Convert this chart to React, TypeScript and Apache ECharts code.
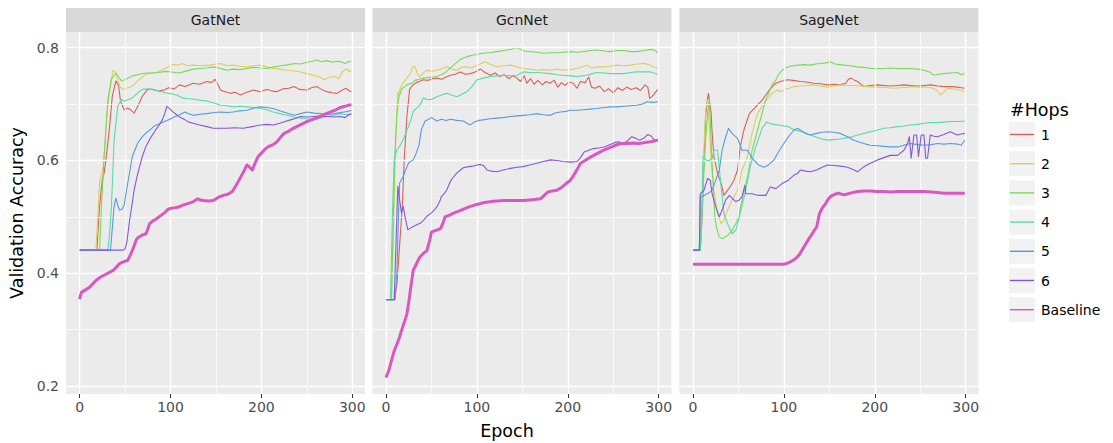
import React, { useEffect, useRef } from "react";
import * as echarts from "echarts";

type Pt = [number, number];

// ---------- data (epoch, validation accuracy) ----------
const panelNames = ["GatNet", "GcnNet", "SageNet"];
const hopNames = ["1", "2", "3", "4", "5", "6", "Baseline"];
const hopColors = ["#db5f57", "#dbd057", "#75db57", "#57dbaa", "#579bdb", "#8557db", "#db57c0"];
const xTicks = [0, 100, 200, 300];
const xMinor = [50, 150, 250];
const yTicks = [0.2, 0.4, 0.6, 0.8];
const yMinor = [0.3, 0.5, 0.7];

const gat1: Pt[] = [[0,0.441],[19,0.441],[22,0.52],[25,0.566],[27,0.578],[29,0.601],[33,0.66],[36,0.714],[40,0.741],[43,0.732],[45,0.705],[49,0.69],[53,0.693],[56,0.69],[60,0.684],[64,0.696],[69,0.714],[75,0.726],[80,0.726],[87,0.723],[93,0.725],[98,0.729],[104,0.727],[110,0.734],[116,0.731],[125,0.737],[132,0.735],[140,0.74],[145,0.738],[149,0.744],[152,0.735],[155,0.725],[160,0.722],[166,0.719],[171,0.721],[177,0.716],[184,0.721],[191,0.725],[198,0.722],[206,0.726],[212,0.723],[217,0.722],[224,0.727],[230,0.728],[236,0.731],[242,0.726],[250,0.725],[255,0.729],[261,0.731],[266,0.726],[272,0.722],[278,0.72],[283,0.719],[288,0.724],[293,0.728],[296,0.724],[299,0.722]];
const gat2: Pt[] = [[0,0.441],[18,0.441],[20,0.5],[22,0.56],[26,0.59],[31,0.696],[35,0.744],[37,0.76],[40,0.755],[44,0.732],[47,0.726],[53,0.729],[58,0.732],[64,0.741],[73,0.753],[80,0.755],[86,0.757],[91,0.761],[96,0.765],[102,0.77],[108,0.769],[113,0.772],[118,0.768],[125,0.769],[134,0.768],[143,0.769],[150,0.771],[155,0.772],[162,0.768],[169,0.769],[176,0.767],[184,0.766],[192,0.768],[199,0.769],[206,0.766],[213,0.763],[220,0.762],[228,0.76],[235,0.759],[243,0.757],[250,0.754],[258,0.751],[264,0.748],[269,0.743],[274,0.747],[280,0.749],[285,0.745],[289,0.757],[294,0.763],[297,0.757],[299,0.76]];
const gat3: Pt[] = [[0,0.441],[22,0.441],[24,0.518],[27,0.607],[31,0.708],[35,0.744],[40,0.755],[46,0.741],[51,0.744],[58,0.75],[66,0.753],[73,0.755],[80,0.755],[87,0.756],[94,0.758],[101,0.757],[109,0.755],[116,0.758],[125,0.762],[132,0.763],[140,0.764],[147,0.766],[153,0.764],[158,0.762],[162,0.76],[168,0.762],[176,0.761],[184,0.763],[192,0.765],[199,0.764],[206,0.763],[214,0.766],[222,0.768],[230,0.77],[236,0.772],[243,0.771],[250,0.774],[256,0.776],[261,0.778],[266,0.775],[272,0.777],[278,0.774],[283,0.776],[287,0.775],[292,0.772],[296,0.775],[299,0.776]];
const gat4: Pt[] = [[0,0.441],[31,0.441],[33,0.47],[35,0.518],[38,0.637],[42,0.696],[46,0.708],[49,0.705],[54,0.708],[58,0.711],[64,0.72],[69,0.726],[75,0.727],[80,0.726],[87,0.723],[94,0.72],[102,0.718],[107,0.716],[113,0.711],[118,0.71],[125,0.709],[132,0.707],[138,0.706],[143,0.704],[150,0.701],[155,0.698],[162,0.697],[169,0.695],[176,0.696],[184,0.695],[191,0.694],[199,0.692],[206,0.69],[213,0.686],[220,0.683],[228,0.68],[236,0.677],[243,0.675],[250,0.674],[258,0.672],[265,0.675],[272,0.678],[280,0.68],[287,0.683],[293,0.681],[299,0.683]];
const gat5: Pt[] = [[0,0.441],[34,0.441],[36,0.48],[38,0.52],[40,0.533],[42,0.52],[44,0.512],[47,0.514],[49,0.521],[53,0.56],[58,0.607],[64,0.631],[68,0.64],[73,0.649],[78,0.655],[82,0.661],[89,0.666],[98,0.672],[104,0.677],[110,0.681],[116,0.686],[120,0.683],[125,0.68],[132,0.682],[140,0.683],[148,0.685],[155,0.686],[162,0.685],[169,0.686],[176,0.688],[184,0.689],[192,0.693],[199,0.695],[206,0.694],[213,0.692],[220,0.688],[228,0.684],[236,0.68],[243,0.683],[250,0.686],[258,0.684],[265,0.683],[272,0.681],[280,0.683],[287,0.685],[291,0.686],[295,0.687],[299,0.689]];
const gat6: Pt[] = [[0,0.441],[48,0.441],[50,0.443],[52,0.455],[55,0.494],[58,0.525],[60,0.548],[63,0.57],[66,0.589],[69,0.607],[73,0.625],[78,0.64],[84,0.655],[88,0.664],[91,0.672],[94,0.685],[96,0.696],[99,0.692],[102,0.687],[106,0.682],[111,0.676],[116,0.672],[120,0.668],[125,0.666],[132,0.663],[140,0.66],[147,0.657],[155,0.657],[162,0.657],[170,0.658],[180,0.657],[190,0.66],[199,0.663],[206,0.664],[213,0.663],[220,0.666],[226,0.669],[232,0.672],[238,0.675],[243,0.678],[250,0.677],[258,0.678],[265,0.679],[272,0.678],[280,0.677],[287,0.678],[292,0.676],[296,0.681],[299,0.682]];
const gatBase: Pt[] = [[0,0.354],[2,0.366],[6,0.37],[11,0.375],[15,0.382],[18,0.387],[22,0.392],[26,0.396],[31,0.4],[37,0.405],[41,0.412],[44,0.417],[48,0.42],[53,0.423],[56,0.433],[59,0.444],[62,0.458],[64,0.463],[68,0.467],[73,0.47],[75,0.478],[77,0.488],[81,0.493],[85,0.497],[90,0.503],[94,0.508],[97,0.513],[100,0.515],[105,0.516],[110,0.518],[114,0.521],[118,0.523],[124,0.526],[130,0.532],[133,0.53],[136,0.529],[142,0.528],[147,0.529],[152,0.534],[158,0.538],[163,0.54],[168,0.545],[173,0.558],[177,0.57],[181,0.582],[184,0.592],[187,0.588],[190,0.583],[193,0.595],[196,0.606],[200,0.613],[204,0.62],[208,0.625],[213,0.628],[217,0.633],[221,0.641],[225,0.648],[230,0.652],[235,0.657],[240,0.661],[245,0.665],[250,0.669],[255,0.672],[260,0.675],[265,0.678],[270,0.682],[276,0.686],[281,0.689],[287,0.694],[292,0.696],[296,0.698],[299,0.699]];

const gcn1: Pt[] = [[0,0.353],[9,0.353],[12,0.38],[15,0.45],[18,0.52],[20,0.6],[23,0.678],[26,0.726],[29,0.733],[33,0.738],[37,0.74],[41,0.743],[46,0.742],[51,0.745],[56,0.746],[61,0.744],[66,0.748],[71,0.751],[76,0.753],[82,0.757],[87,0.753],[93,0.754],[98,0.757],[104,0.762],[109,0.756],[115,0.751],[120,0.755],[125,0.749],[130,0.752],[135,0.745],[140,0.75],[144,0.746],[148,0.74],[152,0.75],[155,0.737],[159,0.745],[163,0.735],[167,0.742],[172,0.734],[176,0.74],[180,0.737],[185,0.742],[189,0.73],[193,0.738],[197,0.733],[201,0.739],[206,0.737],[210,0.728],[214,0.74],[219,0.738],[223,0.748],[226,0.73],[230,0.728],[235,0.732],[240,0.722],[245,0.727],[250,0.72],[255,0.729],[260,0.724],[265,0.73],[270,0.726],[275,0.729],[280,0.724],[285,0.734],[288,0.73],[290,0.71],[293,0.714],[296,0.72],[299,0.726]];
const gcn2: Pt[] = [[0,0.353],[6,0.353],[8,0.45],[10,0.6],[12,0.69],[13,0.72],[14,0.714],[15,0.725],[19,0.738],[23,0.746],[27,0.755],[30,0.767],[32,0.766],[34,0.756],[37,0.748],[41,0.755],[45,0.76],[50,0.758],[56,0.76],[61,0.762],[67,0.766],[72,0.762],[78,0.76],[83,0.765],[89,0.766],[94,0.764],[100,0.769],[105,0.772],[109,0.775],[115,0.77],[122,0.766],[129,0.768],[137,0.769],[144,0.766],[151,0.763],[158,0.762],[166,0.76],[173,0.761],[181,0.76],[188,0.762],[195,0.76],[203,0.761],[210,0.763],[216,0.766],[221,0.769],[226,0.764],[232,0.766],[239,0.766],[246,0.767],[254,0.769],[261,0.768],[269,0.769],[276,0.771],[284,0.772],[289,0.77],[294,0.766],[299,0.763]];
const gcn3: Pt[] = [[0,0.353],[6,0.353],[8,0.5],[10,0.62],[12,0.68],[14,0.71],[17,0.726],[20,0.73],[23,0.734],[28,0.737],[32,0.742],[37,0.744],[41,0.746],[46,0.747],[51,0.748],[56,0.749],[61,0.752],[66,0.757],[70,0.763],[75,0.77],[81,0.778],[86,0.782],[91,0.785],[96,0.787],[102,0.789],[107,0.79],[114,0.791],[122,0.793],[129,0.795],[137,0.797],[144,0.8],[148,0.797],[152,0.794],[158,0.793],[166,0.792],[173,0.79],[180,0.791],[188,0.791],[195,0.792],[203,0.793],[210,0.792],[217,0.793],[225,0.795],[232,0.796],[240,0.794],[247,0.793],[254,0.795],[262,0.795],[269,0.793],[276,0.793],[284,0.795],[291,0.797],[295,0.796],[299,0.791]];
const gcn4: Pt[] = [[0,0.353],[5,0.353],[7,0.5],[9,0.6],[12,0.619],[15,0.625],[19,0.637],[22,0.65],[25,0.661],[28,0.675],[30,0.687],[33,0.692],[36,0.696],[39,0.703],[41,0.711],[45,0.708],[50,0.708],[56,0.713],[61,0.716],[67,0.719],[72,0.716],[78,0.713],[84,0.718],[89,0.722],[94,0.73],[100,0.743],[107,0.746],[115,0.749],[122,0.75],[129,0.751],[137,0.75],[144,0.751],[151,0.757],[158,0.756],[166,0.756],[173,0.755],[181,0.754],[188,0.752],[195,0.751],[203,0.75],[210,0.749],[216,0.75],[221,0.751],[227,0.754],[232,0.756],[240,0.755],[247,0.754],[254,0.754],[262,0.754],[269,0.756],[276,0.757],[284,0.757],[291,0.757],[295,0.755],[299,0.753]];
const gcn5: Pt[] = [[0,0.353],[10,0.353],[12,0.4],[14,0.518],[15,0.56],[19,0.572],[22,0.585],[25,0.596],[30,0.601],[33,0.612],[36,0.625],[39,0.655],[43,0.67],[47,0.673],[50,0.676],[56,0.67],[61,0.673],[66,0.671],[71,0.673],[78,0.671],[85,0.67],[90,0.665],[93,0.663],[97,0.668],[102,0.671],[107,0.672],[114,0.674],[122,0.675],[129,0.676],[137,0.678],[144,0.679],[151,0.68],[158,0.681],[166,0.683],[173,0.681],[181,0.68],[186,0.684],[192,0.686],[198,0.687],[203,0.689],[210,0.689],[217,0.69],[225,0.691],[232,0.692],[240,0.694],[247,0.695],[254,0.695],[262,0.696],[269,0.697],[276,0.698],[282,0.7],[287,0.704],[293,0.703],[299,0.704]];
const gcn6: Pt[] = [[0,0.353],[9,0.353],[11,0.45],[13,0.554],[15,0.53],[17,0.507],[19,0.518],[21,0.5],[24,0.477],[27,0.48],[30,0.483],[34,0.486],[38,0.489],[42,0.495],[45,0.501],[50,0.507],[53,0.512],[56,0.518],[59,0.527],[61,0.536],[64,0.541],[67,0.548],[70,0.56],[72,0.566],[75,0.572],[78,0.578],[82,0.583],[85,0.587],[91,0.589],[96,0.59],[100,0.592],[104,0.593],[108,0.59],[111,0.583],[116,0.581],[122,0.58],[129,0.583],[137,0.586],[144,0.588],[151,0.589],[158,0.592],[166,0.595],[173,0.598],[181,0.601],[188,0.6],[195,0.598],[203,0.597],[210,0.598],[214,0.605],[218,0.615],[223,0.618],[228,0.621],[234,0.622],[240,0.624],[246,0.628],[252,0.632],[256,0.633],[261,0.63],[266,0.635],[270,0.642],[274,0.64],[279,0.636],[284,0.64],[288,0.646],[292,0.643],[295,0.636],[299,0.636]];
const gcnBase: Pt[] = [[0,0.215],[3,0.227],[6,0.245],[9,0.262],[12,0.274],[15,0.287],[17,0.298],[20,0.312],[23,0.328],[25,0.348],[27,0.372],[30,0.405],[33,0.415],[37,0.428],[41,0.435],[45,0.44],[48,0.458],[50,0.473],[55,0.476],[60,0.479],[63,0.49],[65,0.5],[70,0.503],[75,0.507],[80,0.51],[86,0.514],[92,0.518],[100,0.522],[107,0.525],[115,0.527],[122,0.528],[130,0.529],[137,0.529],[144,0.529],[151,0.529],[158,0.53],[165,0.531],[170,0.532],[174,0.538],[178,0.544],[183,0.546],[188,0.547],[193,0.552],[198,0.559],[203,0.565],[207,0.575],[211,0.586],[214,0.595],[219,0.6],[225,0.606],[232,0.612],[239,0.618],[245,0.622],[251,0.626],[258,0.63],[265,0.63],[272,0.631],[279,0.63],[285,0.632],[291,0.633],[296,0.635],[299,0.636]];

const sage1: Pt[] = [[0,0.441],[8,0.441],[10,0.5],[12,0.6],[14,0.68],[16,0.71],[17,0.719],[20,0.683],[21,0.65],[23,0.607],[27,0.577],[31,0.559],[34,0.538],[38,0.547],[42,0.556],[45,0.565],[49,0.583],[52,0.624],[56,0.654],[62,0.683],[69,0.695],[76,0.707],[84,0.725],[91,0.737],[98,0.741],[104,0.743],[110,0.742],[118,0.74],[125,0.739],[133,0.737],[140,0.736],[148,0.734],[155,0.735],[162,0.734],[168,0.737],[171,0.744],[174,0.746],[178,0.742],[181,0.74],[185,0.735],[188,0.731],[195,0.733],[203,0.734],[210,0.733],[217,0.732],[225,0.733],[232,0.734],[240,0.733],[247,0.732],[254,0.733],[262,0.734],[269,0.732],[276,0.731],[284,0.731],[291,0.73],[295,0.729],[299,0.728]];
const sage2: Pt[] = [[0,0.441],[8,0.441],[10,0.52],[12,0.62],[14,0.69],[16,0.707],[18,0.66],[20,0.595],[23,0.547],[27,0.506],[31,0.488],[34,0.494],[38,0.512],[43,0.53],[49,0.547],[54,0.583],[60,0.607],[65,0.648],[71,0.683],[78,0.701],[87,0.719],[93,0.725],[97,0.722],[101,0.726],[106,0.728],[111,0.731],[118,0.732],[125,0.733],[133,0.734],[140,0.732],[148,0.73],[155,0.732],[162,0.734],[170,0.733],[177,0.733],[184,0.732],[192,0.731],[199,0.73],[206,0.73],[214,0.729],[221,0.728],[228,0.729],[236,0.73],[243,0.731],[250,0.73],[257,0.73],[262,0.729],[268,0.725],[272,0.716],[275,0.72],[280,0.728],[285,0.727],[290,0.726],[295,0.724],[299,0.722]];
const sage3: Pt[] = [[0,0.441],[8,0.441],[10,0.5],[12,0.58],[14,0.64],[16,0.68],[18,0.707],[21,0.595],[24,0.5],[26,0.48],[29,0.464],[32,0.461],[38,0.467],[43,0.476],[49,0.494],[54,0.53],[60,0.571],[65,0.618],[73,0.666],[80,0.707],[87,0.734],[91,0.742],[94,0.752],[97,0.758],[100,0.763],[107,0.767],[115,0.769],[122,0.77],[129,0.769],[135,0.771],[140,0.772],[146,0.773],[151,0.775],[156,0.771],[161,0.77],[166,0.769],[173,0.768],[181,0.766],[188,0.765],[195,0.763],[203,0.763],[210,0.763],[217,0.764],[225,0.763],[232,0.763],[239,0.763],[247,0.762],[254,0.76],[260,0.757],[265,0.751],[270,0.753],[276,0.754],[283,0.755],[291,0.756],[295,0.752],[299,0.754]];
const sage4: Pt[] = [[0,0.441],[8,0.441],[10,0.53],[11,0.607],[15,0.6],[18,0.6],[21,0.603],[23,0.618],[27,0.618],[31,0.553],[34,0.506],[38,0.488],[43,0.47],[47,0.476],[52,0.506],[58,0.547],[63,0.589],[69,0.624],[76,0.657],[81,0.668],[84,0.666],[89,0.664],[94,0.663],[100,0.661],[105,0.66],[111,0.654],[118,0.652],[125,0.648],[129,0.645],[136,0.641],[142,0.638],[148,0.636],[155,0.637],[162,0.638],[169,0.64],[175,0.642],[181,0.645],[188,0.648],[195,0.651],[203,0.654],[210,0.657],[217,0.658],[225,0.66],[232,0.661],[239,0.663],[247,0.664],[254,0.666],[262,0.667],[269,0.667],[276,0.668],[284,0.669],[291,0.669],[299,0.67]];
const sage5: Pt[] = [[0,0.441],[7,0.441],[8,0.535],[12,0.538],[16,0.541],[21,0.547],[25,0.565],[29,0.583],[32,0.618],[36,0.642],[39,0.657],[43,0.648],[49,0.639],[54,0.618],[60,0.618],[65,0.604],[72,0.592],[78,0.588],[83,0.592],[89,0.601],[94,0.615],[100,0.63],[105,0.642],[111,0.654],[115,0.657],[120,0.652],[125,0.647],[129,0.645],[136,0.648],[142,0.65],[148,0.651],[155,0.65],[162,0.648],[170,0.642],[177,0.636],[184,0.632],[190,0.629],[195,0.627],[203,0.626],[210,0.625],[217,0.624],[225,0.624],[232,0.627],[239,0.63],[247,0.628],[254,0.627],[262,0.628],[269,0.63],[276,0.629],[284,0.63],[291,0.629],[295,0.627],[299,0.636]];
const sage6: Pt[] = [[0,0.441],[7,0.441],[8,0.541],[12,0.547],[16,0.568],[19,0.565],[21,0.541],[25,0.518],[29,0.5],[32,0.512],[36,0.53],[40,0.538],[43,0.533],[47,0.527],[51,0.53],[54,0.536],[57,0.556],[58,0.541],[65,0.541],[72,0.538],[80,0.538],[85,0.553],[91,0.55],[98,0.559],[105,0.565],[111,0.574],[115,0.577],[118,0.583],[124,0.581],[129,0.58],[136,0.583],[142,0.588],[148,0.592],[155,0.591],[162,0.59],[170,0.588],[176,0.584],[181,0.58],[185,0.585],[188,0.589],[195,0.595],[203,0.601],[210,0.605],[217,0.609],[225,0.609],[232,0.618],[236,0.63],[238,0.642],[240,0.604],[243,0.645],[246,0.645],[248,0.607],[251,0.645],[254,0.645],[256,0.604],[258,0.604],[261,0.645],[265,0.643],[269,0.642],[276,0.646],[283,0.651],[287,0.648],[291,0.645],[295,0.647],[299,0.648]];
const sageBase: Pt[] = [[0,0.416],[100,0.416],[104,0.418],[107,0.42],[110,0.423],[113,0.426],[117,0.433],[120,0.441],[124,0.452],[127,0.46],[130,0.467],[133,0.475],[136,0.482],[139,0.505],[142,0.515],[146,0.524],[149,0.532],[152,0.537],[156,0.54],[160,0.542],[166,0.539],[173,0.542],[181,0.545],[188,0.546],[195,0.546],[203,0.545],[210,0.545],[217,0.544],[225,0.545],[232,0.545],[239,0.545],[247,0.545],[254,0.545],[262,0.544],[269,0.543],[276,0.542],[284,0.542],[291,0.542],[299,0.542]];

const panelSeries: Pt[][][] = [
  [gat1, gat2, gat3, gat4, gat5, gat6, gatBase],
  [gcn1, gcn2, gcn3, gcn4, gcn5, gcn6, gcnBase],
  [sage1, sage2, sage3, sage4, sage5, sage6, sageBase],
];

// ---------- layout ----------
const FONT = "DejaVu Sans";
const panelLefts = [66, 372.4, 679.4];
const panelWidth = 299;
const panelTop = 32;
const panelHeight = 362;
const xMin = -14.95, xMax = 313.95;
const yMin = 0.1858, yMax = 0.8278;

function buildOption() {
  const grid = panelLefts.map((left) => ({
    left, top: panelTop, width: panelWidth, height: panelHeight,
    show: true, backgroundColor: "#EBEBEB", borderWidth: 0, containLabel: false,
  }));
  const xAxis = panelLefts.map((_, i) => ({
    gridIndex: i, type: "value", min: xMin, max: xMax,
    axisLine: { show: false }, splitLine: { show: false },
    axisTick: { show: true, customValues: xTicks, length: 4, lineStyle: { color: "#333333", width: 1 } },
    axisLabel: { show: true, customValues: xTicks, color: "#4d4d4d", fontSize: 14, fontFamily: FONT, margin: 6 },
  }));
  const yAxis = panelLefts.map((_, i) => ({
    gridIndex: i, type: "value", min: yMin, max: yMax,
    axisLine: { show: false }, splitLine: { show: false },
    axisTick: { show: i === 0, customValues: yTicks, length: 4, lineStyle: { color: "#333333", width: 1 } },
    axisLabel: {
      show: i === 0, customValues: yTicks, color: "#4d4d4d", fontSize: 14, fontFamily: FONT, margin: 7,
      formatter: (v: number) => v.toFixed(1),
    },
  }));
  const series: any[] = [];
  panelLefts.forEach((_, i) => {
    const gl = (v: number, axis: "xAxis" | "yAxis", w: number) => ({
      [axis]: v, lineStyle: { color: "#ffffff", width: w, type: "solid" },
    });
    series.push({
      type: "line", xAxisIndex: i, yAxisIndex: i, data: [], silent: true, z: 1,
      markLine: {
        silent: true, symbol: ["none", "none"], label: { show: false }, animation: false,
        data: [
          ...xMinor.map((v) => gl(v, "xAxis", 0.7)),
          ...yMinor.map((v) => gl(v, "yAxis", 0.7)),
          ...xTicks.map((v) => gl(v, "xAxis", 1.4)),
          ...yTicks.map((v) => gl(v, "yAxis", 1.4)),
        ],
      },
    });
    panelSeries[i].forEach((pts, k) => {
      const isBase = k === 6;
      series.push({
        type: "line", name: hopNames[k], xAxisIndex: i, yAxisIndex: i, data: pts,
        showSymbol: false, symbol: "none", z: 2 + k, clip: true,
        lineStyle: { color: hopColors[k], width: isBase ? 3 : 1.1, join: "round" },
        itemStyle: { color: hopColors[k] },
      });
    });
  });

  const graphic: any[] = [];
  panelLefts.forEach((left, i) => {
    graphic.push({ type: "rect", shape: { x: left, y: 8, width: panelWidth, height: 24 }, style: { fill: "#D9D9D9" }, silent: true });
    graphic.push({
      type: "text", x: left + panelWidth / 2, y: 20,
      style: { text: panelNames[i], align: "center", verticalAlign: "middle", textAlign: "center", textVerticalAlign: "middle", fontSize: 14, fontFamily: FONT, fill: "#1a1a1a" },
    });
  });
  graphic.push({
    type: "text", x: 507, y: 431,
    style: { text: "Epoch", align: "center", verticalAlign: "middle", textAlign: "center", textVerticalAlign: "middle", fontSize: 17.5, fontFamily: FONT, fill: "#000000" },
  });
  graphic.push({
    type: "text", x: 17, y: 213, rotation: Math.PI / 2,
    style: { text: "Validation Accuracy", align: "center", verticalAlign: "middle", textAlign: "center", textVerticalAlign: "middle", fontSize: 17.5, fontFamily: FONT, fill: "#000000" },
  });
  // legend
  graphic.push({
    type: "text", x: 1010, y: 110,
    style: { text: "#Hops", align: "left", verticalAlign: "middle", textAlign: "left", textVerticalAlign: "middle", fontSize: 17.5, fontFamily: FONT, fill: "#000000" },
  });
  hopNames.forEach((name, k) => {
    const y = 122 + k * 29.2;
    graphic.push({ type: "rect", shape: { x: 1009, y, width: 26, height: 25 }, style: { fill: "#F2F2F2" }, silent: true });
    graphic.push({ type: "line", shape: { x1: 1010, y1: y + 12.5, x2: 1034, y2: y + 12.5 }, style: { stroke: hopColors[k], lineWidth: 1.4 }, silent: true });
    graphic.push({
      type: "text", x: 1041, y: y + 12.5,
      style: { text: name, align: "left", verticalAlign: "middle", textAlign: "left", textVerticalAlign: "middle", fontSize: 14, fontFamily: FONT, fill: "#000000" },
    });
  });

  return {
    animation: false,
    backgroundColor: "#ffffff",
    textStyle: { fontFamily: FONT },
    grid, xAxis, yAxis, series, graphic,
  };
}

export default function App() {
  const ref = useRef<HTMLDivElement>(null);
  useEffect(() => {
    if (!ref.current) return;
    const chart = echarts.init(ref.current, undefined, { renderer: "svg" });
    chart.setOption(buildOption() as any);
    return () => chart.dispose();
  }, []);
  return <div ref={ref} style={{ position: "absolute", left: 0, top: 0, width: 1113, height: 443 }} />;
}
